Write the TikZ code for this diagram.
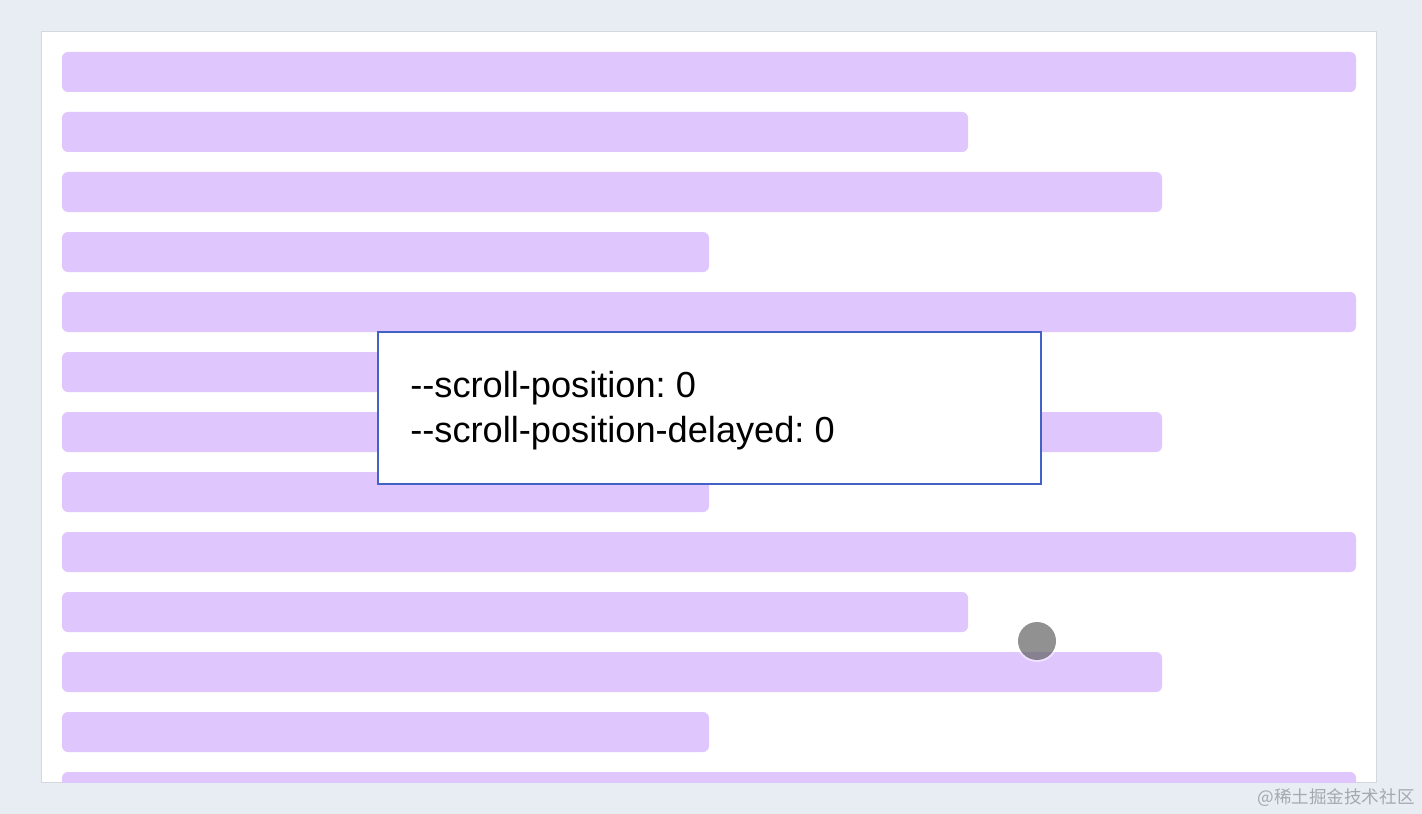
\documentclass[tikz,border=0pt]{standalone}
\usepackage{fontspec}
\setmainfont{Liberation Sans}
\newfontfamily\cjk{Noto Sans CJK SC}
\usetikzlibrary{positioning}
\definecolor{pagebg}{HTML}{E8ECF3}
\definecolor{barfill}{HTML}{DFC6FD}
\definecolor{boxline}{HTML}{4262C6}
\definecolor{frameline}{HTML}{D3D7DE}
\definecolor{marktext}{HTML}{A4A8AF}
\frenchspacing

\begin{document}
\begin{tikzpicture}[x=0.02cm,y=-0.02cm,
  bar/.style={fill=barfill,rounded corners=0.12cm},
  varline/.style={anchor=base west,inner sep=0pt,font=\fontsize{20.6}{24}\selectfont}]
  \fill[pagebg] (0,0) rectangle (1422,814);
  \useasboundingbox (0,0) rectangle (1422,814);

  \node[draw=frameline,fill=white,line width=0.5pt,inner sep=0pt,
    minimum width=26.7cm,minimum height=15.02cm,anchor=north west] (page) at (41,31) {};

  % the list rows
  \begin{scope}
    \clip (41,31) rectangle (1376,782);
    \foreach \i/\w in {0/1356,1/968,2/1162,3/709,4/1356,5/968,6/1162,
                       7/709,8/1356,9/968,10/1162,11/709,12/1356}
      \fill[bar] (62,52+60*\i) rectangle (\w,92+60*\i);
  \end{scope}

  \node[draw=boxline,fill=white,line width=1.1pt,inner sep=0pt,
    minimum width=13.26cm,minimum height=3.04cm,anchor=north west] (box) at (377,331) {};
  \node[varline] (pos) at (410,397) {-\kern0pt-scroll-position: 0};
  \node[varline] (delayed) at (410,442) {-\kern0pt-scroll-position-delayed: 0};

  \node[circle,fill=white,fill opacity=0.5,minimum size=0.84cm,inner sep=0pt] (ring) at (1037,641) {};
  \node[circle,fill=black,fill opacity=0.43,minimum size=0.76cm,inner sep=0pt] (cursor) at (1037,641) {};

  \node[anchor=south east,inner sep=0pt,text=marktext,font=\cjk\fontsize{10}{12}\selectfont] (mark) at (1415,807) {@稀土掘金技术社区};
\end{tikzpicture}
\end{document}
